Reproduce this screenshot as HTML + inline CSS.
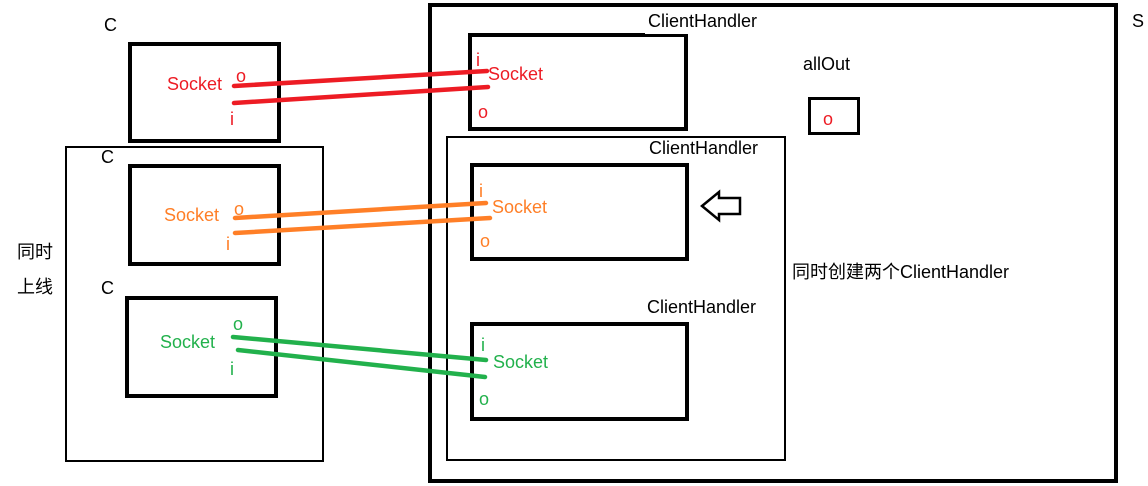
<!DOCTYPE html>
<html><head><meta charset="utf-8"><style>
html,body{margin:0;padding:0;background:#fff;}
svg{display:block;}
text{font-family:"Liberation Sans","Noto Sans CJK SC",sans-serif;font-size:18px;}
</style></head><body>
<svg width="1148" height="486" viewBox="0 0 1148 486" xmlns="http://www.w3.org/2000/svg">
<g fill="none" stroke="#000">
<rect x="430" y="5" width="686" height="476" stroke-width="4"/>
<rect x="470" y="35" width="216" height="94" stroke-width="4"/>
<rect x="447" y="137" width="338" height="323" stroke-width="2"/>
<rect x="472" y="165" width="215" height="94" stroke-width="4"/>
<rect x="472" y="324" width="215" height="95" stroke-width="4"/>
<rect x="809.5" y="98.5" width="49" height="35" stroke-width="3"/>
<rect x="130" y="44" width="149" height="97" stroke-width="4"/>
<rect x="66" y="147" width="257" height="314" stroke-width="2"/>
<rect x="130" y="166" width="149" height="98" stroke-width="4"/>
<rect x="127" y="298" width="149" height="98" stroke-width="4"/>
<path d="M702,206 L719,192 L719,198 L740,198 L740,214 L719,214 L719,220 Z" stroke-width="2.5"/>
</g>
<rect x="645" y="8" width="130" height="26" fill="#fff"/>
<g fill="#000">
<text x="648" y="27">ClientHandler</text>
<text x="649" y="154">ClientHandler</text>
<text x="647" y="313">ClientHandler</text>
<text x="803" y="70">allOut</text>
<text x="792" y="278">同时创建两个ClientHandler</text>
<text x="1132" y="27">S</text>
<text x="104" y="31">C</text>
<text x="101" y="163">C</text>
<text x="101" y="294">C</text>
<text x="17" y="258">同时</text>
<text x="17" y="293">上线</text>
</g>
<g stroke-width="4.5" stroke-linecap="round">
<line x1="234" y1="86" x2="487" y2="71" stroke="#ed1c24"/>
<line x1="234" y1="103" x2="488" y2="87" stroke="#ed1c24"/>
<line x1="235" y1="218" x2="486" y2="203" stroke="#ff7f27"/>
<line x1="235" y1="233" x2="490" y2="218" stroke="#ff7f27"/>
<line x1="233" y1="337" x2="486" y2="360" stroke="#22b14c"/>
<line x1="238" y1="350" x2="485" y2="377" stroke="#22b14c"/>
</g>
<g fill="#ed1c24">
<text x="167" y="90">Socket</text><text x="236" y="82">o</text><text x="230" y="125">i</text>
<text x="476" y="66">i</text><text x="488" y="80">Socket</text><text x="478" y="118">o</text>
<text x="823" y="125">o</text>
</g>
<g fill="#ff7f27">
<text x="164" y="221">Socket</text><text x="234" y="215">o</text><text x="226" y="250">i</text>
<text x="479" y="197">i</text><text x="492" y="213">Socket</text><text x="480" y="247">o</text>
</g>
<g fill="#22b14c">
<text x="160" y="348">Socket</text><text x="233" y="330">o</text><text x="230" y="375">i</text>
<text x="481" y="351">i</text><text x="493" y="368">Socket</text><text x="479" y="405">o</text>
</g>
</svg>
</body></html>
